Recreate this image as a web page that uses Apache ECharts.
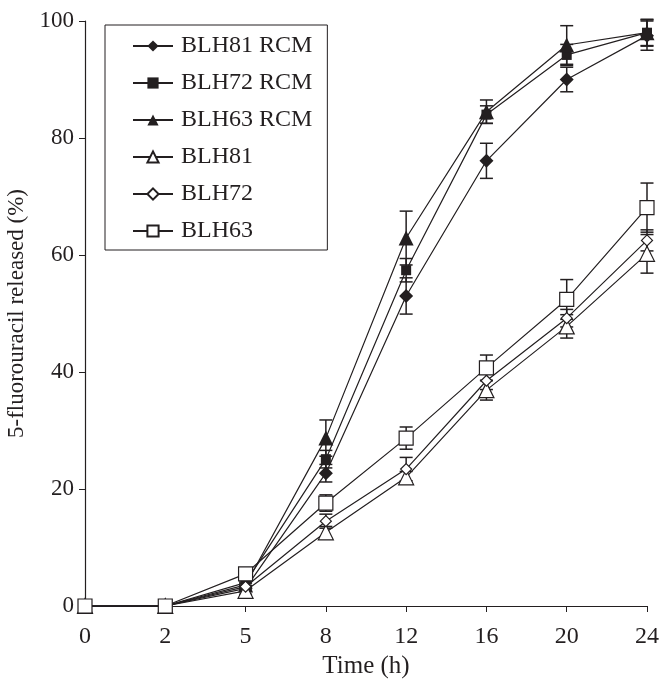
<!DOCTYPE html>
<html>
<head>
<meta charset="utf-8">
<script src="https://cdn.jsdelivr.net/npm/echarts@6/dist/echarts.min.js"></script>
<style>
  html, body { margin: 0; padding: 0; background: #fff; }
  #main { width: 662px; height: 683px; }
</style>
</head>
<body>
<div id="main"></div>
<script>
// time points (h), category axis
var times = ['0', '2', '5', '8', '12', '16', '20', '24'];

// released % and error (sd) per formulation
var blh81rcm = [0, 0, 3.0, 22.7, 53.0, 76.1, 90.0, 97.5];
var blh81rcmErr = [0, 0, 0.5, 1.5, 3.1, 3.0, 2.1, 2.5];
var blh72rcm = [0, 0, 4.0, 25.1, 57.4, 84.0, 94.2, 98.0];
var blh72rcmErr = [0, 0, 0.5, 1.5, 2.0, 1.5, 1.8, 2.2];
var blh63rcm = [0, 0, 3.6, 28.7, 62.9, 84.5, 95.9, 98.0];
var blh63rcmErr = [0, 0, 0.5, 3.1, 4.6, 2.0, 3.3, 2.3];
var blh81 = [0, 0, 2.6, 12.6, 22.0, 36.9, 47.8, 60.2];
var blh81Err = [0, 0, 0.6, 1.0, 1.0, 1.7, 2.0, 3.3];
var blh72 = [0, 0, 3.3, 14.5, 23.4, 38.5, 49.2, 62.5];
var blh72Err = [0, 0, 0.6, 1.2, 2.0, 1.5, 1.5, 1.8];
var blh63 = [0, 0, 5.5, 17.6, 28.7, 40.7, 52.4, 68.1];
var blh63Err = [0, 0, 0.6, 1.4, 1.9, 2.2, 3.4, 4.2];

var yTicks = [0, 20, 40, 60, 80, 100];

var font = '"Liberation Serif", "DejaVu Serif", serif';
var ink = '#231f20';

var chart = echarts.init(document.getElementById('main'));

function lineSeries(name, data, symbol, size, filled) {
  return {
    name: name,
    type: 'line',
    data: data,
    symbol: symbol,
    symbolSize: size,
    z: 3,
    lineStyle: { color: ink, width: 1.2 },
    itemStyle: {
      color: filled ? ink : '#fff',
      borderColor: ink,
      borderWidth: filled ? 0 : 1.2
    },
    emphasis: { disabled: true }
  };
}

// error bars via custom series
function errSeries(vals, errs) {
  var d = [];
  for (var i = 0; i < vals.length; i++) {
    d.push([i, vals[i], errs[i]]);
  }
  return {
    type: 'custom',
    z: 2,
    silent: true,
    data: d,
    renderItem: function (params, api) {
      var x = api.value(0), v = api.value(1), e = api.value(2);
      if (!e) return null;
      var hi = api.coord([x, v + e]);
      var lo = api.coord([x, v - e]);
      var cw = 6.5;
      var st = { stroke: ink, lineWidth: 1.5 };
      return {
        type: 'group',
        children: [
          { type: 'line', shape: { x1: hi[0], y1: hi[1], x2: lo[0], y2: lo[1] }, style: st },
          { type: 'line', shape: { x1: hi[0] - cw, y1: hi[1], x2: hi[0] + cw, y2: hi[1] }, style: st },
          { type: 'line', shape: { x1: lo[0] - cw, y1: lo[1], x2: lo[0] + cw, y2: lo[1] }, style: st }
        ]
      };
    }
  };
}

var option = {
  backgroundColor: '#fff',
  animation: false,
  grid: { left: 85, right: 15, top: 21, bottom: 77, outerBoundsMode: 'none', containLabel: false },
  legend: {
    orient: 'vertical',
    left: 105,
    top: 25,
    padding: [9, 15, 7, 27],
    borderColor: ink,
    borderWidth: 1,
    itemWidth: 40,
    itemHeight: 14,
    itemGap: 13,
    data: ['BLH81 RCM', 'BLH72 RCM', 'BLH63 RCM', 'BLH81', 'BLH72', 'BLH63'],
    textStyle: { fontFamily: font, fontSize: 24, color: ink, lineHeight: 22, padding: [0, 0, 0, 3] }
  },
  xAxis: {
    type: 'category',
    data: times,
    boundaryGap: false,
    name: 'Time (h)',
    nameLocation: 'middle',
    nameGap: 47,
    nameTextStyle: { fontFamily: font, fontSize: 25, color: ink },
    axisLine: { lineStyle: { color: ink, width: 1.2 } },
    axisTick: { show: true, inside: false, length: 6, alignWithLabel: true, lineStyle: { color: ink } },
    axisLabel: { fontFamily: font, fontSize: 24, color: ink, margin: 19 },
    splitLine: { show: false }
  },
  yAxis: {
    type: 'value',
    min: yTicks[0],
    max: yTicks[yTicks.length - 1],
    interval: 20,
    name: '5-fluorouracil released (%)',
    nameLocation: 'middle',
    nameGap: 52,
    nameRotate: 90,
    nameTextStyle: { fontFamily: font, fontSize: 23, color: ink },
    axisLine: { show: true, lineStyle: { color: ink, width: 1.2 } },
    axisTick: { show: true, inside: false, length: 6, lineStyle: { color: ink } },
    axisLabel: { fontFamily: font, fontSize: 23, color: ink, margin: 11 },
    splitLine: { show: false }
  },
  series: [
    errSeries(blh81rcm, blh81rcmErr),
    errSeries(blh72rcm, blh72rcmErr),
    errSeries(blh63rcm, blh63rcmErr),
    errSeries(blh81, blh81Err),
    errSeries(blh72, blh72Err),
    errSeries(blh63, blh63Err),
    lineSeries('BLH81 RCM', blh81rcm, 'diamond', 14, true),
    lineSeries('BLH72 RCM', blh72rcm, 'rect', 10, true),
    lineSeries('BLH63 RCM', blh63rcm, 'triangle', 15, true),
    lineSeries('BLH81', blh81, 'triangle', 15, false),
    lineSeries('BLH72', blh72, 'diamond', 11, false),
    lineSeries('BLH63', blh63, 'rect', 14, false)
  ]
};

chart.setOption(option);
</script>
</body>
</html>
